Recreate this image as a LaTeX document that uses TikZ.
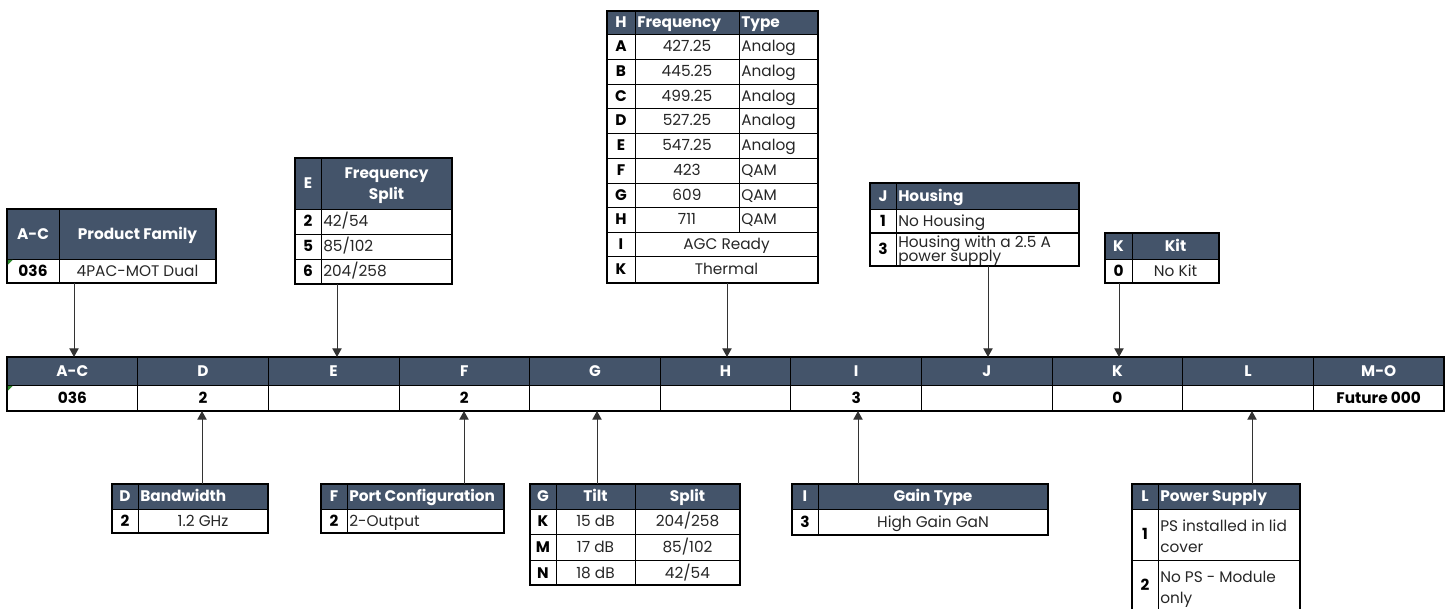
\documentclass[tikz,border=0pt]{standalone}
\usepackage{fontspec}
\setmainfont{Poppins}
\usetikzlibrary{arrows.meta}
\definecolor{hdrblue}{HTML}{44546A}
\definecolor{txtgray}{HTML}{262626}
\definecolor{mark}{HTML}{2E8B2E}
\newcommand\tf{\fontsize{11.5pt}{13pt}\selectfont}
\tikzset{
  hdrfill/.style={fill=hdrblue},
  frame/.style={draw=black, line width=1.4pt},
  grid/.style={draw=black, line width=0.55pt},
  ht/.style={text=white, font=\tf\bfseries, inner sep=0pt, anchor=base},
  htl/.style={ht, anchor=base west},
  kt/.style={text=black, font=\tf\bfseries, inner sep=0pt, anchor=base},
  vt/.style={text=txtgray, font=\tf, inner sep=0pt, anchor=base},
  vtl/.style={vt, anchor=base west},
  conn/.style={draw=black!80, line width=0.75pt, -{Triangle[length=6.5pt,width=7pt]}},
  flag/.style={fill=mark}
}
\begin{document}
\begin{tikzpicture}[x=0.75pt,y=-0.75pt]
\useasboundingbox (0,0) rectangle (1450,609);

% ---------------- main bar ----------------
\fill[hdrfill] (7,357) rectangle (1444,385);
\foreach \i in {1,...,10} \draw[grid] ({7+\i*130.636},357) -- ({7+\i*130.636},411);
\draw[grid] (7,385) -- (1444,385);
\draw[frame] (7,357) rectangle (1444,411);
\foreach \lbl [count=\i from 0] in {A-C,D,E,F,G,H,I,J,K,L,M-O}
  \node[ht] (bh\i) at ({7+(\i+0.5)*130.636},376.5) {\lbl};
\foreach \v [count=\i from 0] in {036,2,{},2,{},{},3,{},0,{},Future 000}
  \node[kt] (bv\i) at ({7+(\i+0.5)*130.636},403.5) {\v};
\fill[flag] (7.8,385.8) -- ++(5,0) -- ++(-5,5) -- cycle;
\coordinate (barT) at (0,357);
\coordinate (barB) at (0,411);

% ---------------- A-C table ----------------
\fill[hdrfill] (7,209) rectangle (216,259);
\draw[grid] (59,209) -- (59,283) (7,259) -- (216,259);
\draw[frame] (7,209) rectangle (216,283);
\node[ht] (acH1) at (33,239.5) {A-C};
\node[ht] (acH2) at (137.5,239.5) {Product Family};
\node[kt] (acK) at (33,276.5) {036};
\node[vt] (acV) at (137.5,276.5) {4PAC-MOT Dual};
\fill[flag] (7.8,259.8) -- ++(5,0) -- ++(-5,5) -- cycle;
\coordinate (aAC) at (74,283);

% ---------------- E table ----------------
\fill[hdrfill] (295,158) rectangle (452,209);
\draw[grid] (321,158) -- (321,284) (295,209) -- (452,209) (295,234) -- (452,234) (295,259) -- (452,259);
\draw[frame] (295,158) rectangle (452,284);
\node[ht] (eH1) at (308,189) {E};
\node[ht] (eH2) at (386.5,179) {Frequency};
\node[ht] (eH3) at (386.5,200) {Split};
\node[kt] (eK1) at (308,227) {2};
\node[vtl] (eV1) at (323,227) {42/54};
\node[kt] (eK2) at (308,252) {5};
\node[vtl] (eV2) at (323,252) {85/102};
\node[kt] (eK3) at (308,277) {6};
\node[vtl] (eV3) at (323,277) {204/258};
\coordinate (aE) at (337,284);

% ---------------- H table ----------------
\fill[hdrfill] (607,11) rectangle (818,34);
\draw[grid] (635,11) -- (635,283) (739,11) -- (739,232);
\foreach \yy in {34,59,84,108,133,158,183,207,232,256} \draw[grid] (607,\yy) -- (818,\yy);
\draw[frame] (607,11) rectangle (818,283);
\node[ht] (hH1) at (621,28) {H};
\node[htl] (hH2) at (637,28) {Frequency};
\node[htl] (hH3) at (741,28) {Type};
\foreach \k/\f/\t/\m [count=\n] in {A/427.25/Analog/46.5, B/445.25/Analog/71.5, C/499.25/Analog/96, D/527.25/Analog/120.5, E/547.25/Analog/145.5, F/423/QAM/170.5, G/609/QAM/195, H/711/QAM/219.5} {
  \node[kt] (hK\n) at (621,\m+5.5) {\k};
  \node[vt] (hF\n) at (687,\m+5.5) {\f};
  \node[vtl] (hT\n) at (741,\m+5.5) {\t};
}
\node[kt] (hK9) at (621,249.5) {I};
\node[vt] (hF9) at (726.5,249.5) {AGC Ready};
\node[kt] (hK10) at (621,275) {K};
\node[vt] (hF10) at (726.5,275) {Thermal};
\coordinate (aH) at (727,283);

% ---------------- J table ----------------
\fill[hdrfill] (870,183) rectangle (1079,209);
\draw[grid] (896,183) -- (896,266) (870,209) -- (1079,209);
\draw[frame] (870,233) -- (1079,233);
\draw[frame] (870,183) rectangle (1079,266);
\node[ht] (jH1) at (883,201.5) {J};
\node[htl] (jH2) at (898,201.5) {Housing};
\node[kt] (jK1) at (883,226.5) {1};
\node[vtl] (jV1) at (898,226.5) {No Housing};
\node[kt] (jK2) at (883,254.5) {3};
\node[vtl] (jV2a) at (898,248) {Housing with a 2.5 A};
\node[vtl] (jV2b) at (898,261.5) {power supply};
\coordinate (aJ) at (988,266);

% ---------------- K table ----------------
\fill[hdrfill] (1105,233) rectangle (1219,259);
\draw[grid] (1132,233) -- (1132,283) (1105,259) -- (1219,259);
\draw[frame] (1105,233) rectangle (1219,283);
\node[ht] (kH1) at (1118.5,251.5) {K};
\node[ht] (kH2) at (1175.5,251.5) {Kit};
\node[kt] (kK1) at (1118.5,276.5) {0};
\node[vt] (kV1) at (1175.5,276.5) {No Kit};
\coordinate (aK) at (1119,283);

% ---------------- D table ----------------
\fill[hdrfill] (112,484) rectangle (268,509);
\draw[grid] (138,484) -- (138,533) (112,509) -- (268,509);
\draw[frame] (112,484) rectangle (268,533);
\node[ht] (dH1) at (125,502) {D};
\node[htl] (dH2) at (140,502) {Bandwidth};
\node[kt] (dK1) at (125,526.5) {2};
\node[vt] (dV1) at (203,526.5) {1.2 GHz};
\coordinate (aD) at (202,484);

% ---------------- F table ----------------
\fill[hdrfill] (321,484) rectangle (504,509);
\draw[grid] (347,484) -- (347,533) (321,509) -- (504,509);
\draw[frame] (321,484) rectangle (504,533);
\node[ht] (fH1) at (334,502) {F};
\node[htl] (fH2) at (349,502) {Port Configuration};
\node[kt] (fK1) at (334,526.5) {2};
\node[vtl] (fV1) at (349,526.5) {2-Output};
\coordinate (aF) at (464,484);

% ---------------- G table ----------------
\fill[hdrfill] (530,484) rectangle (740,509);
\draw[grid] (556,484) -- (556,585) (635,484) -- (635,585);
\foreach \yy in {509,534,560} \draw[grid] (530,\yy) -- (740,\yy);
\draw[frame] (530,484) rectangle (740,585);
\node[ht] (gH1) at (543,502) {G};
\node[ht] (gH2) at (595.5,502) {Tilt};
\node[ht] (gH3) at (687.5,502) {Split};
\foreach \k/\t/\s/\m [count=\n] in {K/15 dB/204\slash 258/521.5, M/17 dB/85\slash 102/547, N/18 dB/42\slash 54/572.5} {
  \node[kt] (gK\n) at (543,\m+5.5) {\k};
  \node[vt] (gT\n) at (595.5,\m+5.5) {\t};
  \node[vt] (gS\n) at (687.5,\m+5.5) {\s};
}
\coordinate (aG) at (597,484);

% ---------------- I table ----------------
\fill[hdrfill] (792,484) rectangle (1048,509);
\draw[grid] (818,484) -- (818,535) (792,509) -- (1048,509);
\draw[frame] (792,484) rectangle (1048,535);
\node[ht] (iH1) at (805,502) {I};
\node[ht] (iH2) at (933,502) {Gain Type};
\node[kt] (iK1) at (805,527.5) {3};
\node[vt] (iV1) at (933,527.5) {High Gain GaN};
\coordinate (aI) at (858,484);

% ---------------- L table ----------------
\fill[hdrfill] (1132,484) rectangle (1300,509);
\draw[grid] (1158,484) -- (1158,609) (1132,509) -- (1300,509) (1132,560) -- (1300,560);
\draw[frame] (1132,609) -- (1132,484) -- (1300,484) -- (1300,609);
\node[ht] (lH1) at (1145,502) {L};
\node[htl] (lH2) at (1160,502) {Power Supply};
\node[kt] (lK1) at (1145,540) {1};
\node[vtl] (lV1a) at (1160,532) {PS installed in lid};
\node[vtl] (lV1b) at (1160,552) {cover};
\node[kt] (lK2) at (1145,590) {2};
\node[vtl] (lV2a) at (1160,582) {No PS - Module};
\node[vtl] (lV2b) at (1160,603) {only};
\coordinate (aL) at (1252,484);

% ---------------- connectors ----------------
\foreach \c in {aAC,aE,aH,aJ,aK} \draw[conn] (\c) -- (\c |- barT);
\foreach \c in {aD,aF,aG,aI,aL} \draw[conn] (\c) -- (\c |- barB);
\end{tikzpicture}
\end{document}
